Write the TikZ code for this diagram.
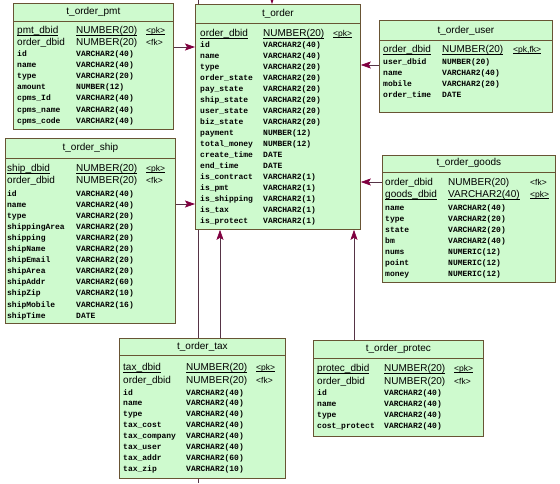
\documentclass[tikz,border=0pt]{standalone}
\usepackage{fontspec}
\setsansfont{Liberation Sans}
\newfontfamily\colfont{Liberation Mono}
\usetikzlibrary{arrows.meta,positioning}

\definecolor{tblfill}{RGB}{206,250,206}
\definecolor{tblborder}{RGB}{104,84,52}
\definecolor{linkcol}{RGB}{86,52,70}
\definecolor{headcol}{RGB}{128,0,64}
\newcommand{\pkline}[1]{\underline{\smash{#1}}}

\begin{document}
\begin{tikzpicture}[x=1pt, y=-1pt,
  tbl/.style={draw=tblborder, fill=tblfill, line width=0.8pt, inner sep=0pt, anchor=north west},
  sep/.style={draw=tblborder, line width=0.8pt},
  ttl/.style={inner sep=0pt, font=\sffamily\fontsize{10}{10}\selectfont},
  key/.style={anchor=base west, yshift=-3.6pt, inner sep=0pt, font=\sffamily\fontsize{10}{10}\selectfont},
  tag/.style={anchor=base west, yshift=-3.2pt, inner sep=0pt, font=\sffamily\fontsize{8.5}{8.5}\selectfont},
  col/.style={anchor=base west, yshift=-3pt, inner sep=0pt, font=\colfont\bfseries\fontsize{8}{8}\selectfont},
  link/.style={draw=linkcol, line width=0.7pt},
  fkarr/.style={link, -{Stealth[length=10pt, width=7pt, inset=2pt, fill=headcol, color=headcol]}},
]
\useasboundingbox (0,0) rectangle (560,483);

% --- line passing behind the tables ---
\coordinate (passtop) at (198,0);
\coordinate (passbot) at (198,483);
\draw[link] (passtop) -- (passbot);

% --- t_order ---
\node[tbl, minimum width=165, minimum height=225] (order) at (195,4) {};
\draw[sep] (order.west |- 0,23) -- (order.east |- 0,23);
\node[ttl] (order-t) at (order.north |- 0,14) {t\_order};
\node[key] (order-pk) at (200,33) {\pkline{order\_dbid}};
\node[key] at (263,33) {\pkline{NUMBER(20)}};
\node[tag] at (333,33) {\pkline{<pk>}};
\foreach \nm/\ty [count=\i from 0] in {id/VARCHAR2(40), name/VARCHAR2(40), type/VARCHAR2(20),
    order\_state/VARCHAR2(20), pay\_state/VARCHAR2(20), ship\_state/VARCHAR2(20),
    user\_state/VARCHAR2(20), biz\_state/VARCHAR2(20), payment/NUMBER(12),
    total\_money/NUMBER(12), create\_time/DATE, end\_time/DATE, is\_contract/VARCHAR2(1),
    is\_pmt/VARCHAR2(1), is\_shipping/VARCHAR2(1), is\_tax/VARCHAR2(1), is\_protect/VARCHAR2(1)} {
  \node[col] (order-r\i) at (200,44+\i*11.06) {\nm};
  \node[col] at (263,44+\i*11.06) {\ty};
}

% --- t_order_pmt ---
\node[tbl, minimum width=160, minimum height=126] (pmt) at (13,3) {};
\draw[sep] (pmt.west |- 0,21) -- (pmt.east |- 0,21);
\node[ttl] (pmt-t) at (pmt.north |- 0,12) {t\_order\_pmt};
\node[key] (pmt-pk) at (17,30) {\pkline{pmt\_dbid}};
\node[key] at (76,30) {\pkline{NUMBER(20)}};
\node[tag] at (146,30) {\pkline{<pk>}};
\node[key] (pmt-fk) at (17,42) {order\_dbid};
\node[key] at (76,42) {NUMBER(20)};
\node[tag] at (146,42) {<fk>};
\foreach \nm/\ty [count=\i from 0] in {id/VARCHAR2(40), name/VARCHAR2(40), type/VARCHAR2(20),
    amount/NUMBER(12), cpms\_Id/VARCHAR2(40), cpms\_name/VARCHAR2(40), cpms\_code/VARCHAR2(40)} {
  \node[col] (pmt-r\i) at (17,53+\i*11.2) {\nm};
  \node[col] at (76,53+\i*11.2) {\ty};
}

% --- t_order_user ---
\node[tbl, minimum width=173, minimum height=92] (user) at (379,20) {};
\draw[sep] (user.west |- 0,40) -- (user.east |- 0,40);
\node[ttl] (user-t) at (user.north |- 0,31) {t\_order\_user};
\node[key] (user-pk) at (383,49) {\pkline{order\_dbid}};
\node[key] at (442,49) {\pkline{NUMBER(20)}};
\node[tag] at (513,49) {\pkline{<pk,fk>}};
\foreach \nm/\ty [count=\i from 0] in {user\_dbid/NUMBER(20), name/VARCHAR2(40),
    mobile/VARCHAR2(20), order\_time/DATE} {
  \node[col] (user-r\i) at (383,61+\i*11) {\nm};
  \node[col] at (442,61+\i*11) {\ty};
}

% --- t_order_ship ---
\node[tbl, minimum width=170, minimum height=185] (ship) at (5,138) {};
\draw[sep] (ship.west |- 0,158) -- (ship.east |- 0,158);
\node[ttl] (ship-t) at (ship.north |- 0,148) {t\_order\_ship};
\node[key] (ship-pk) at (7,168) {\pkline{ship\_dbid}};
\node[key] at (76,168) {\pkline{NUMBER(20)}};
\node[tag] at (146,168) {\pkline{<pk>}};
\node[key] (ship-fk) at (7,180) {order\_dbid};
\node[key] at (76,180) {NUMBER(20)};
\node[tag] at (146,180) {<fk>};
\foreach \nm/\ty [count=\i from 0] in {id/VARCHAR2(40), name/VARCHAR2(40), type/VARCHAR2(20),
    shippingArea/VARCHAR2(20), shipping/VARCHAR2(20), shipName/VARCHAR2(20),
    shipEmail/VARCHAR2(20), shipArea/VARCHAR2(20), shipAddr/VARCHAR2(60),
    shipZip/VARCHAR2(10), shipMobile/VARCHAR2(16), shipTime/DATE} {
  \node[col] (ship-r\i) at (7,193+\i*11.1) {\nm};
  \node[col] at (76,193+\i*11.1) {\ty};
}

% --- t_order_goods ---
\node[tbl, minimum width=173, minimum height=127] (goods) at (382,155) {};
\draw[sep] (goods.west |- 0,172) -- (goods.east |- 0,172);
\node[ttl] (goods-t) at (goods.north |- 0,163) {t\_order\_goods};
\node[key] (goods-fk) at (385,182) {order\_dbid};
\node[key] at (448,182) {NUMBER(20)};
\node[tag] at (530,182) {<fk>};
\node[key] (goods-pk) at (385,194) {\pkline{goods\_dbid}};
\node[key] at (448,194) {\pkline{VARCHAR2(40)}};
\node[tag] at (530,194) {\pkline{<pk>}};
\foreach \nm/\ty [count=\i from 0] in {name/VARCHAR2(40), type/VARCHAR2(20), state/VARCHAR2(20),
    bm/VARCHAR2(40), nums/NUMERIC(12), point/NUMERIC(12), money/NUMERIC(12)} {
  \node[col] (goods-r\i) at (385,207+\i*11) {\nm};
  \node[col] at (448,207+\i*11) {\ty};
}

% --- t_order_tax ---
\node[tbl, minimum width=166, minimum height=140] (tax) at (119,338) {};
\draw[sep] (tax.west |- 0,355) -- (tax.east |- 0,355);
\node[ttl] (tax-t) at (tax.north |- 0,347) {t\_order\_tax};
\node[key] (tax-pk) at (123,367) {\pkline{tax\_dbid}};
\node[key] at (186,367) {\pkline{NUMBER(20)}};
\node[tag] at (256,367) {\pkline{<pk>}};
\node[key] (tax-fk) at (123,380) {order\_dbid};
\node[key] at (186,380) {NUMBER(20)};
\node[tag] at (256,380) {<fk>};
\foreach \nm/\ty [count=\i from 0] in {id/VARCHAR2(40), name/VARCHAR2(40), type/VARCHAR2(40),
    tax\_cost/VARCHAR2(40), tax\_company/VARCHAR2(40), tax\_user/VARCHAR2(40),
    tax\_addr/VARCHAR2(60), tax\_zip/VARCHAR2(10)} {
  \node[col] (tax-r\i) at (123,392+\i*10.9) {\nm};
  \node[col] at (186,392+\i*10.9) {\ty};
}

% --- t_order_protec ---
\node[tbl, minimum width=170, minimum height=96] (protec) at (313,340) {};
\draw[sep] (protec.west |- 0,358) -- (protec.east |- 0,358);
\node[ttl] (protec-t) at (protec.north |- 0,349) {t\_order\_protec};
\node[key] (protec-pk) at (317,368) {\pkline{protec\_dbid}};
\node[key] at (384,368) {\pkline{NUMBER(20)}};
\node[tag] at (454,368) {\pkline{<pk>}};
\node[key] (protec-fk) at (317,381) {order\_dbid};
\node[key] at (384,381) {NUMBER(20)};
\node[tag] at (454,381) {<fk>};
\foreach \nm/\ty [count=\i from 0] in {id/VARCHAR2(40), name/VARCHAR2(40), type/VARCHAR2(40),
    cost\_protect/VARCHAR2(40)} {
  \node[col] (protec-r\i) at (317,392+\i*11.2) {\nm};
  \node[col] at (384,392+\i*11.2) {\ty};
}

% --- references into t_order ---
\coordinate (pmt-link) at (0,47);
\coordinate (user-link) at (0,65);
\coordinate (goods-link) at (0,182);
\coordinate (ship-link) at (0,204);
\coordinate (tax-link) at (220,0);
\coordinate (protec-link) at (354,0);
\coordinate (top-link) at (272,0);
\draw[fkarr] (pmt.east |- pmt-link) -- (order.west |- pmt-link);
\draw[fkarr] (ship.east |- ship-link) -- (order.west |- ship-link);
\draw[fkarr] (user.west |- user-link) -- (order.east |- user-link);
\draw[fkarr] (goods.west |- goods-link) -- (order.east |- goods-link);
\draw[fkarr] (tax-link |- tax.north) -- (tax-link |- order.south);
\draw[fkarr] (protec-link |- protec.north) -- (protec-link |- order.south);
\draw[fkarr] (top-link) -- (top-link |- order.north);
\end{tikzpicture}
\end{document}
